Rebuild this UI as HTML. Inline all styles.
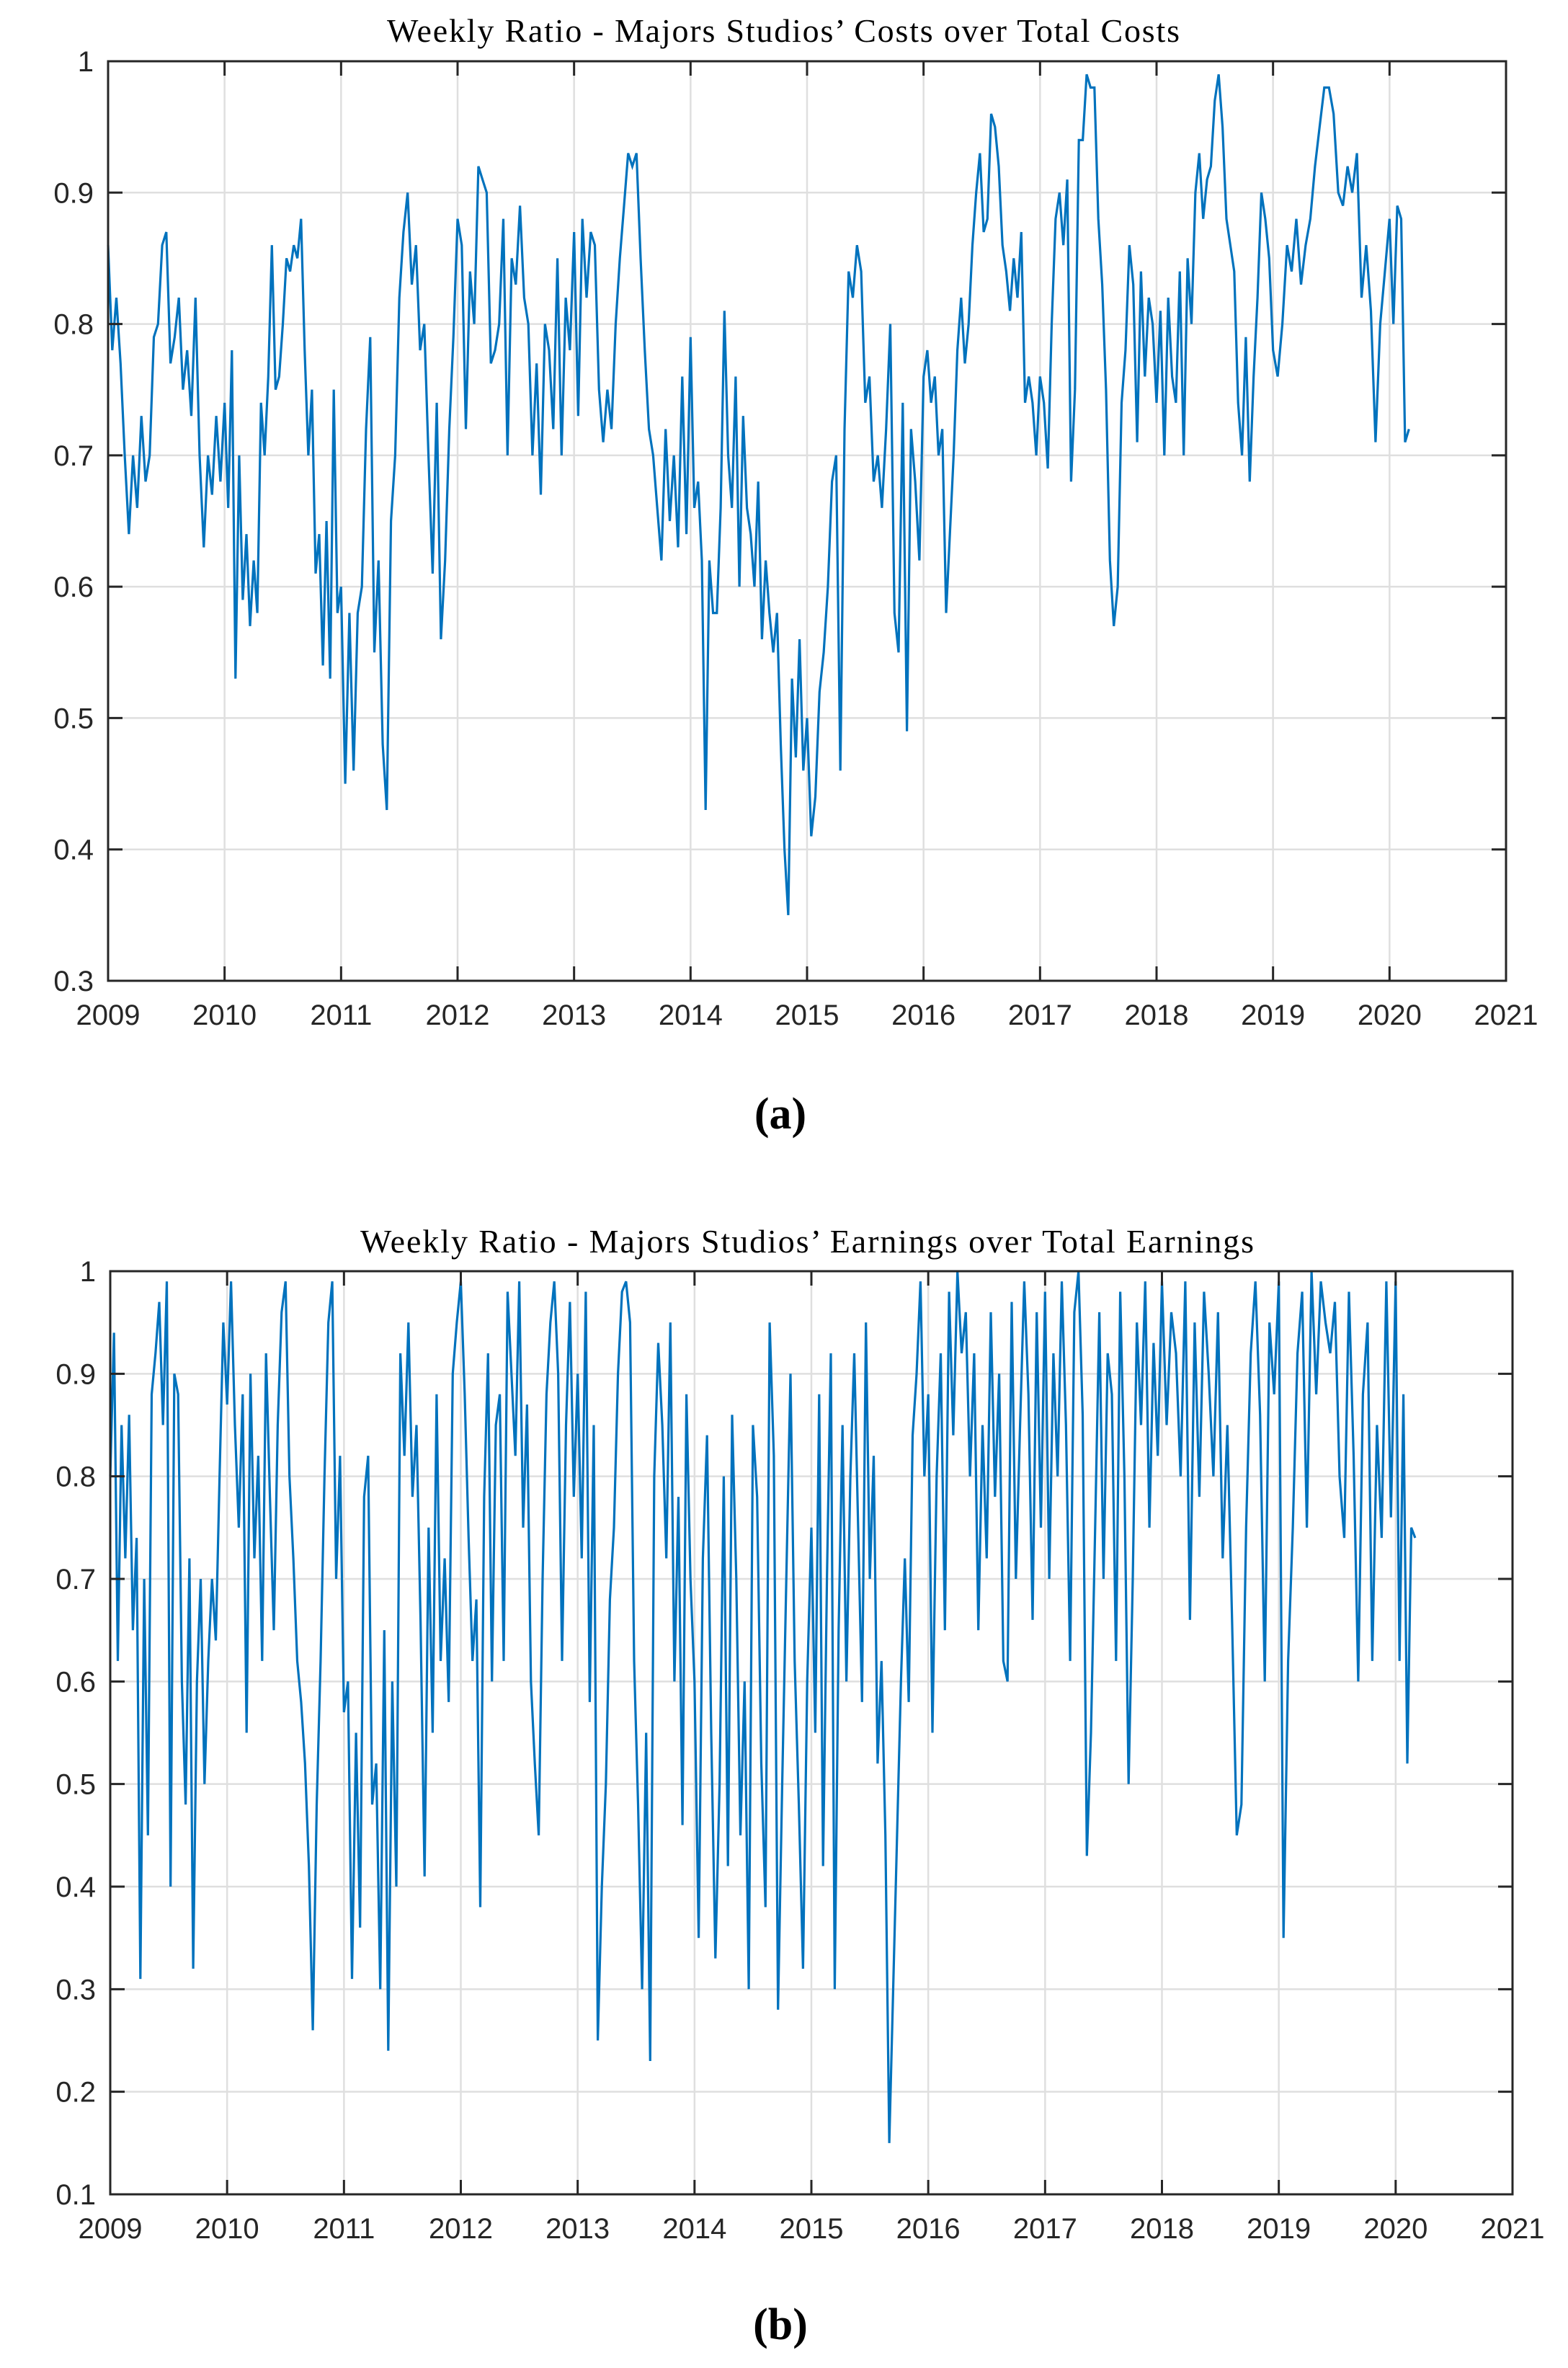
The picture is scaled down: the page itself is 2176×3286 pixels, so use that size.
<!DOCTYPE html>
<html><head><meta charset="utf-8"><style>
html,body{margin:0;padding:0;background:#fff;}
svg{display:block;}
</style></head>
<body>
<svg id="fig" width="2176" height="3286" viewBox="0 0 2176 3286" xmlns="http://www.w3.org/2000/svg">
<rect width="2176" height="3286" fill="#fff"/>
<text x="1087" y="58" font-family="Liberation Serif, serif" font-size="46" text-anchor="middle" fill="#000" textLength="1100">Weekly Ratio - Majors Studios’ Costs over Total Costs</text>
<text x="1083" y="1566" font-family="Liberation Serif, serif" font-size="62" font-weight="bold" text-anchor="middle" fill="#000">(a)</text>
<text x="1120" y="1738" font-family="Liberation Serif, serif" font-size="46" text-anchor="middle" fill="#000" textLength="1240">Weekly Ratio - Majors Studios’ Earnings over Total Earnings</text>
<text x="1083" y="3246" font-family="Liberation Serif, serif" font-size="62" font-weight="bold" text-anchor="middle" fill="#000">(b)</text>
<g id="chartA"></g>
<g id="chartB"></g>
</svg>
<script>
const yearTicks = [2009,2010,2011,2012,2013,2014,2015,2016,2017,2018,2019,2020,2021];
const yTicksA = [0.3,0.4,0.5,0.6,0.7,0.8,0.9,1];
const yTicksB = [0.1,0.2,0.3,0.4,0.5,0.6,0.7,0.8,0.9,1];
const lastYearSpan = 0.2;
const costsByYear = [
[0.86,0.78,0.82,0.77,0.70,0.64,0.70,0.66,0.73,0.68,0.70,0.79,0.80,0.86,0.87,0.77,0.79,0.82,0.75,0.78,0.73,0.82,0.70,0.63,0.70,0.67,0.73,0.68],
[0.74,0.66,0.78,0.53,0.70,0.59,0.64,0.57,0.62,0.58,0.74,0.70,0.76,0.86,0.75,0.76,0.80,0.85,0.84,0.86,0.85,0.88,0.78,0.70,0.75,0.61,0.64,0.54,0.65,0.53,0.75,0.58],
[0.60,0.45,0.58,0.46,0.58,0.60,0.72,0.79,0.55,0.62,0.48,0.43,0.65,0.70,0.82,0.87,0.90,0.83,0.86,0.78,0.80,0.70,0.61,0.74,0.56,0.62,0.72,0.79],
[0.88,0.86,0.72,0.84,0.80,0.92,0.91,0.90,0.77,0.78,0.80,0.88,0.70,0.85,0.83,0.89,0.82,0.80,0.70,0.77,0.67,0.80,0.78,0.72,0.85,0.70,0.82,0.78],
[0.87,0.73,0.88,0.82,0.87,0.86,0.75,0.71,0.75,0.72,0.80,0.85,0.89,0.93,0.92,0.93,0.85,0.78,0.72,0.70,0.66,0.62,0.72,0.65,0.70,0.63,0.76,0.64],
[0.79,0.66,0.68,0.62,0.43,0.62,0.58,0.58,0.66,0.81,0.70,0.66,0.76,0.60,0.73,0.66,0.64,0.60,0.68,0.56,0.62,0.58,0.55,0.58,0.48,0.40,0.35,0.53,0.47,0.56,0.46],
[0.50,0.41,0.44,0.52,0.55,0.60,0.68,0.70,0.46,0.72,0.84,0.82,0.86,0.84,0.74,0.76,0.68,0.70,0.66,0.72,0.80,0.58,0.55,0.74,0.49,0.72,0.68,0.62],
[0.76,0.78,0.74,0.76,0.70,0.72,0.58,0.64,0.70,0.78,0.82,0.77,0.80,0.86,0.90,0.93,0.87,0.88,0.96,0.95,0.92,0.86,0.84,0.81,0.85,0.82,0.87,0.74,0.76,0.74,0.70],
[0.76,0.74,0.69,0.80,0.88,0.90,0.86,0.91,0.68,0.75,0.94,0.94,0.99,0.98,0.98,0.88,0.83,0.75,0.62,0.57,0.60,0.74,0.78,0.86,0.83,0.71,0.84,0.76,0.82,0.80],
[0.74,0.81,0.70,0.82,0.76,0.74,0.84,0.70,0.85,0.80,0.90,0.93,0.88,0.91,0.92,0.97,0.99,0.95,0.88,0.86,0.84,0.74,0.70,0.79,0.68,0.76,0.82,0.90,0.88,0.85],
[0.78,0.76,0.80,0.86,0.84,0.88,0.83,0.86,0.88,0.92,0.95,0.98,0.98,0.96,0.90,0.89,0.92,0.90,0.93,0.82,0.86,0.81,0.71,0.80,0.84],
[0.88,0.80,0.89,0.88,0.71,0.72]
];
const earningsByYear = [
[0.80,0.94,0.62,0.85,0.72,0.86,0.65,0.74,0.31,0.70,0.45,0.88,0.92,0.97,0.85,0.99,0.40,0.90,0.88,0.60,0.48,0.72,0.32,0.60,0.70,0.50,0.62,0.70,0.64,0.80,0.95],
[0.87,0.99,0.85,0.75,0.88,0.55,0.90,0.72,0.82,0.62,0.92,0.78,0.65,0.85,0.96,0.99,0.80,0.72,0.62,0.58,0.52,0.42,0.26,0.48,0.62,0.80,0.95,0.99,0.70,0.82],
[0.57,0.60,0.31,0.55,0.36,0.78,0.82,0.48,0.52,0.30,0.65,0.24,0.60,0.40,0.92,0.82,0.95,0.78,0.85,0.66,0.41,0.75,0.55,0.88,0.62,0.72,0.58,0.90,0.95],
[0.99,0.88,0.74,0.62,0.68,0.38,0.78,0.92,0.60,0.85,0.88,0.62,0.98,0.90,0.82,0.99,0.75,0.87,0.60,0.52,0.45,0.70,0.88,0.95,0.99,0.90,0.62,0.85,0.97,0.78],
[0.90,0.72,0.98,0.58,0.85,0.25,0.40,0.50,0.68,0.75,0.90,0.98,0.99,0.95,0.62,0.48,0.30,0.55,0.23,0.80,0.93,0.85,0.72,0.95,0.60,0.78,0.46,0.88,0.70],
[0.60,0.35,0.72,0.84,0.55,0.33,0.50,0.80,0.42,0.86,0.70,0.45,0.60,0.30,0.85,0.78,0.52,0.38,0.95,0.82,0.28,0.50,0.70,0.90,0.62,0.48,0.32,0.60],
[0.75,0.55,0.88,0.42,0.70,0.92,0.30,0.65,0.85,0.60,0.80,0.92,0.75,0.58,0.95,0.70,0.82,0.52,0.62,0.45,0.15,0.30,0.45,0.60,0.72,0.58,0.84,0.90,0.99,0.80],
[0.88,0.55,0.80,0.92,0.65,0.98,0.84,1.00,0.92,0.96,0.80,0.92,0.65,0.85,0.72,0.96,0.78,0.90,0.62,0.60,0.97,0.70,0.85,0.99,0.88,0.66,0.96,0.75],
[0.98,0.70,0.92,0.80,0.99,0.85,0.62,0.96,1.00,0.86,0.43,0.55,0.75,0.96,0.70,0.92,0.88,0.62,0.98,0.80,0.50,0.70,0.95,0.85,0.99,0.75,0.93,0.82],
[0.99,0.85,0.96,0.92,0.80,0.99,0.66,0.95,0.78,0.98,0.90,0.80,0.96,0.72,0.85,0.66,0.45,0.48,0.75,0.92,0.99,0.86,0.60,0.95,0.88],
[0.99,0.35,0.62,0.75,0.92,0.98,0.75,1.00,0.88,0.99,0.95,0.92,0.97,0.80,0.74,0.98,0.82,0.60,0.88,0.95,0.62,0.85,0.74,0.99,0.76],
[0.99,0.62,0.88,0.52,0.75,0.74]
];

const NS = 'http://www.w3.org/2000/svg';
function mk(parent, tag, attrs){
  const e = document.createElementNS(NS, tag);
  for (const k in attrs) e.setAttribute(k, attrs[k]);
  parent.appendChild(e);
  return e;
}
function drawChart(gid, box, yTicks, data, key){
  const g = document.getElementById(gid);
  const x0 = yearTicks[0], x1 = yearTicks[yearTicks.length-1];
  const y0 = yTicks[0], y1 = yTicks[yTicks.length-1];
  const sx = v => box.l + (v - x0) / (x1 - x0) * (box.r - box.l);
  const sy = v => box.b - (v - y0) / (y1 - y0) * (box.b - box.t);
  yearTicks.forEach(t => {
    const ln = mk(g, 'line', {x1:sx(t), x2:sx(t), y1:box.t, y2:box.b, stroke:'#dfdfdf', 'stroke-width':2.5});
    
    
  });
  yTicks.forEach(t => {
    const ln = mk(g, 'line', {x1:box.l, x2:box.r, y1:sy(t), y2:sy(t), stroke:'#dfdfdf', 'stroke-width':2.5});
    
    
  });
  let pts = [];
  data.forEach((arr, yi) => {
    const span = (yi === data.length - 1) ? lastYearSpan : 1;
    arr.forEach((v, i) => {
      pts.push(sx(x0 + yi + i / arr.length * span).toFixed(1) + ',' + sy(v).toFixed(1));
    });
  });
  const pl = mk(g, 'polyline', {points:pts.join(' '), fill:'none', stroke:'#0072BD', 'stroke-width':3.2, 'stroke-linejoin':'miter'});
  
  
  const bx = mk(g, 'rect', {x:box.l, y:box.t, width:box.r-box.l, height:box.b-box.t, fill:'none', stroke:'#262626', 'stroke-width':3});
  
  
  yearTicks.forEach(t => {
    mk(g, 'line', {x1:sx(t), x2:sx(t), y1:box.b, y2:box.b-20, stroke:'#262626', 'stroke-width':3});
    mk(g, 'line', {x1:sx(t), x2:sx(t), y1:box.t, y2:box.t+20, stroke:'#262626', 'stroke-width':3});
    const tx = mk(g, 'text', {x:sx(t), y:box.b+61, 'font-family':'Liberation Sans, sans-serif', 'font-size':40, 'text-anchor':'middle', fill:'#262626'});
    tx.textContent = t;
    
    
  });
  yTicks.forEach(t => {
    mk(g, 'line', {x1:box.l, x2:box.l+20, y1:sy(t), y2:sy(t), stroke:'#262626', 'stroke-width':3});
    mk(g, 'line', {x1:box.r, x2:box.r-20, y1:sy(t), y2:sy(t), stroke:'#262626', 'stroke-width':3});
    const tx = mk(g, 'text', {x:box.l-20, y:sy(t)+14, 'font-family':'Liberation Sans, sans-serif', 'font-size':40, 'text-anchor':'end', fill:'#262626'});
    tx.textContent = String(t);
    
    
  });
}
drawChart('chartA', {l:150, r:2090, t:85, b:1361}, yTicksA, costsByYear, 'costs-ratio');
drawChart('chartB', {l:153, r:2099, t:1764, b:3045}, yTicksB, earningsByYear, 'earnings-ratio');
</script>
</body></html>
